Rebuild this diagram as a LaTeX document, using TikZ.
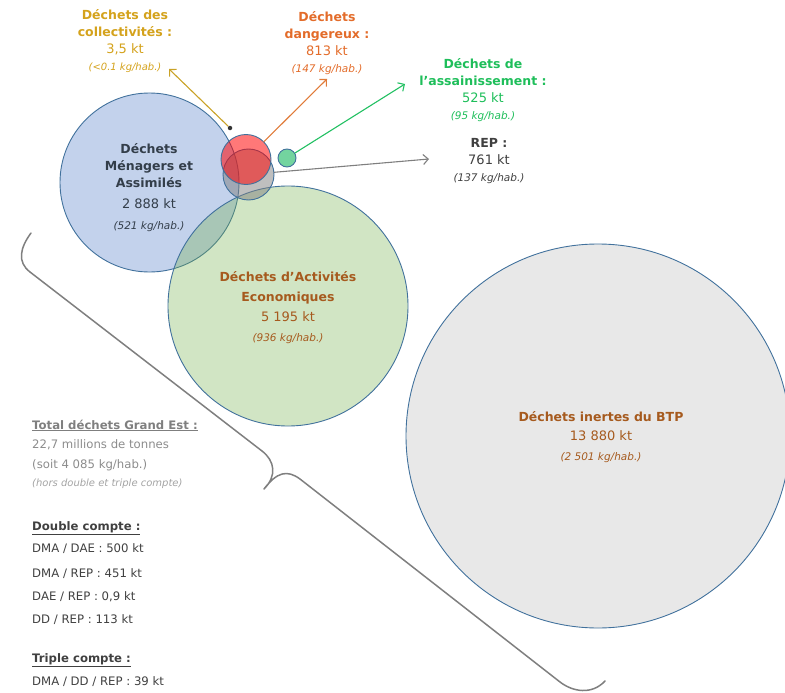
\documentclass[tikz,border=0pt]{standalone}
\usepackage{fontspec}
\setmainfont{DejaVu Sans}
\usepackage{xcolor}
\usetikzlibrary{arrows.meta}

\definecolor{edgeblue}{HTML}{41719C}
\definecolor{dmablue}{HTML}{4472C4}
\definecolor{daegreen}{HTML}{70AD47}
\definecolor{btpgray}{HTML}{A5A5A5}
\definecolor{repgray}{HTML}{7F7F7F}
\definecolor{ddred}{HTML}{FF0000}
\definecolor{assgreen}{HTML}{00B050}
\definecolor{goldtxt}{HTML}{D4A21C}
\definecolor{goldline}{HTML}{C9A227}
\definecolor{orangetxt}{HTML}{E36C2A}
\definecolor{orangeline}{HTML}{E07B39}
\definecolor{greentxt}{HTML}{1EBE5A}
\definecolor{greenline}{HTML}{22C062}
\definecolor{browntxt}{HTML}{A65A1E}
\definecolor{slatetxt}{HTML}{333E4A}
\definecolor{darktxt}{HTML}{404040}
\definecolor{midtxt}{HTML}{8C8C8C}
\definecolor{bracegray}{HTML}{7F7F7F}

\newcommand{\wtitle}[1]{{\fontsize{12.5}{17}\selectfont\bfseries #1}}
\newcommand{\wnum}[1]{{\fontsize{13}{17}\selectfont #1}}
\newcommand{\wkg}[1]{{\fontsize{10.5}{17}\selectfont\itshape #1}}

\begin{document}
\begin{tikzpicture}[x=1pt,y=-1pt,
  wastecircle/.style={circle, draw=edgeblue, line width=0.9pt, inner sep=0pt, outer sep=0pt},
  arrowline/.style={-{Straight Barb[length=5pt,width=10pt]}, line width=1.1pt},
  wastelabel/.style={align=center, inner sep=0pt, font=\fontsize{12}{17}\selectfont},
  listtxt/.style={anchor=base west, inner sep=0pt, font=\fontsize{11.7}{13}\selectfont, text=darktxt}]
\useasboundingbox (0,0) rectangle (785,693);
% circles
\node[wastecircle, fill=dmablue, fill opacity=0.32, minimum size=179pt] (dma) at (149.5,182.5) {};
\node[wastecircle, fill=daegreen, fill opacity=0.32, minimum size=240pt] (dae) at (288,306) {};
\node[wastecircle, fill=btpgray, fill opacity=0.25, minimum size=384pt] (btp) at (598,436) {};
\node[wastecircle, fill=repgray, fill opacity=0.5, minimum size=51pt] (rep) at (248.5,174.5) {};
\node[wastecircle, fill=ddred, fill opacity=0.53, minimum size=50pt] (dd) at (246,159.5) {};
\node[wastecircle, fill=assgreen, fill opacity=0.55, minimum size=18pt] (assain) at (287,158) {};
\node[circle, fill=black!80, inner sep=0pt, minimum size=4.5pt] (collect) at (230,128) {};
% labels in circles
\node[wastelabel, text=slatetxt] (dmalab) at (149,188) {\wtitle{Déchets}\\ \wtitle{Ménagers et}\\ \wtitle{Assimilés}\\[4pt] \wnum{2 888 kt}\\[4pt] \wkg{(521 kg/hab.)}};
\node[wastelabel, text=browntxt, font=\fontsize{12}{20}\selectfont] (daelab) at (288,308) {\wtitle{Déchets d’Activités}\\ \wtitle{Economiques}\\ \wnum{5 195 kt}\\ \wkg{(936 kg/hab.)}};
\node[wastelabel, text=browntxt, font=\fontsize{12}{19.5}\selectfont] (btplab) at (601,437) {\wtitle{Déchets inertes du BTP}\\ \wnum{13 880 kt}\\ \wkg{(2 501 kg/hab.)}};
% outside labels
\node[wastelabel, text=goldtxt] (collectlab) at (125,41) {\wtitle{Déchets des}\\ \wtitle{collectivités :}\\ \wnum{3,5 kt}\\ {\fontsize{10}{17}\selectfont\itshape (<0.1 kg/hab.)}};
\node[wastelabel, text=orangetxt] (ddlab) at (327,43) {\wtitle{Déchets}\\ \wtitle{dangereux :}\\ \wnum{813 kt}\\ \wkg{(147 kg/hab.)}};
\node[wastelabel, text=greentxt] (assainlab) at (483,90) {\wtitle{Déchets de}\\ \wtitle{l’assainissement :}\\ \wnum{525 kt}\\ \wkg{(95 kg/hab.)}};
\node[wastelabel, text=darktxt] (replab) at (489,161) {\wtitle{REP :}\\ \wnum{761 kt}\\ \wkg{(137 kg/hab.)}};
% arrows
\coordinate (collecttip) at (169,69);
\coordinate (ddtip) at (327,79);
\coordinate (assaintip) at (405,84);
\coordinate (reptip) at (429,159);
\draw[arrowline, goldline] (collect) -- (collecttip);
\draw[arrowline, orangeline] (dd) -- (ddtip);
\draw[arrowline, greenline] (assain) -- (assaintip);
\draw[arrowline, repgray] (rep) -- (reptip);
% brace
\draw[bracegray, line width=1.5pt, line cap=round, line join=round]
  (31,233) .. controls (20,248) and (17,262) .. (30,272)
  -- (262,451) .. controls (275,461) and (277,476) .. (264,489)
  .. controls (277,472) and (287,469.5) .. (300,479)
  -- (560,682) .. controls (573,692) and (592,695) .. (605,681);
% totals
\node[listtxt, text=repgray] (total) at (32,429) {\underline{\textbf{Total déchets Grand Est :}}};
\node[listtxt, text=midtxt] (totmt) at (32,448) {22,7 millions de tonnes};
\node[listtxt, text=midtxt] (totkg) at (32,468) {(soit 4 085 kg/hab.)};
\node[listtxt, text=midtxt!80, font=\fontsize{10}{12}\selectfont\itshape] (tothors) at (32,486.5) {(hors double et triple compte)};
\node[listtxt] (dbl) at (32,530) {\underline{\textbf{Double compte :}}};
\node[listtxt] (dbla) at (32,552) {DMA / DAE : 500 kt};
\node[listtxt] (dblb) at (32,577) {DMA / REP : 451 kt};
\node[listtxt] (dblc) at (32,600) {DAE / REP : 0,9 kt};
\node[listtxt] (dbld) at (32,623) {DD / REP : 113 kt};
\node[listtxt] (tpl) at (32,662) {\underline{\textbf{Triple compte :}}};
\node[listtxt] (tpla) at (32,685) {DMA / DD / REP : 39 kt};
\end{tikzpicture}
\end{document}
